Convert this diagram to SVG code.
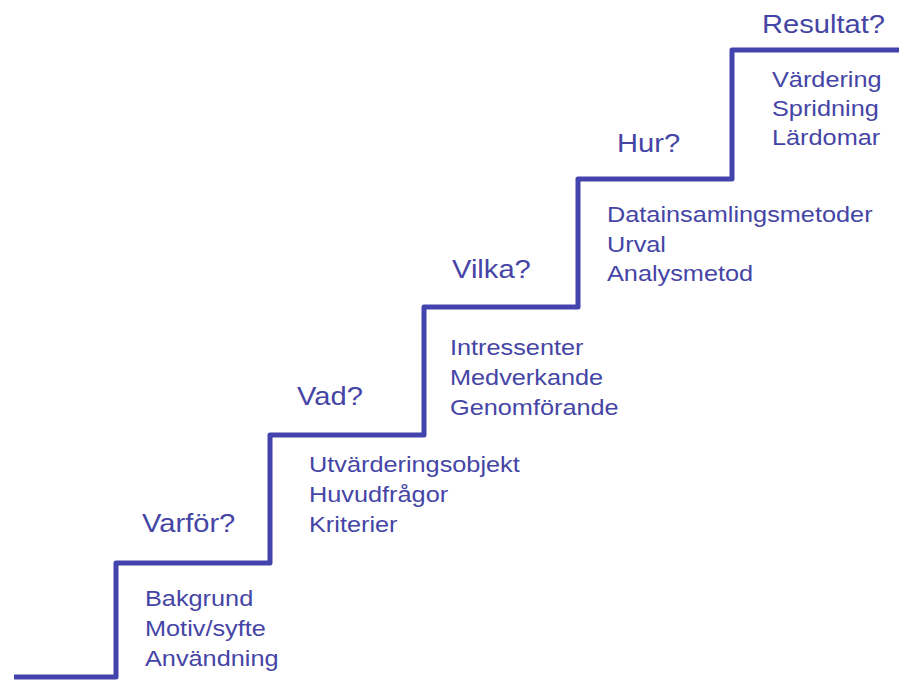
<svg xmlns="http://www.w3.org/2000/svg" width="899" height="683" viewBox="0 0 899 683">
  <style>
    .stair { fill: none; stroke: #4343ad; stroke-width: 5; stroke-linejoin: round; stroke-linecap: butt; }
    text { font-family: "Liberation Sans", Arial, Helvetica, sans-serif; fill: #4545a6; }
    .title { font-size: 26px; }
    .item { font-size: 22px; }
  </style>
  <rect width="899" height="683" fill="#ffffff"/>

  <!-- staircase line -->
  <g id="connectors">
    <path class="stair" d="M14,677 H116 V563 H270 V435 H424 V307 H578 V179 H732 V50 H899"/>
  </g>

  <!-- step 1 -->
  <g id="step-varfor">
    <text class="title" transform="translate(142,532) scale(1.12,1)">Varför?</text>
    <text class="item" transform="translate(145,606) scale(1.15,1)">Bakgrund</text>
    <text class="item" transform="translate(145,636) scale(1.15,1)">Motiv/syfte</text>
    <text class="item" transform="translate(145,666) scale(1.15,1)">Användning</text>
  </g>

  <!-- step 2 -->
  <g id="step-vad">
    <text class="title" transform="translate(297,405) scale(1.12,1)">Vad?</text>
    <text class="item" transform="translate(309,472) scale(1.15,1)">Utvärderingsobjekt</text>
    <text class="item" transform="translate(309,502) scale(1.15,1)">Huvudfrågor</text>
    <text class="item" transform="translate(309,532) scale(1.15,1)">Kriterier</text>
  </g>

  <!-- step 3 -->
  <g id="step-vilka">
    <text class="title" transform="translate(452,278) scale(1.12,1)">Vilka?</text>
    <text class="item" transform="translate(450,355) scale(1.15,1)">Intressenter</text>
    <text class="item" transform="translate(450,385) scale(1.15,1)">Medverkande</text>
    <text class="item" transform="translate(450,415) scale(1.15,1)">Genomförande</text>
  </g>

  <!-- step 4 -->
  <g id="step-hur">
    <text class="title" transform="translate(617,152) scale(1.12,1)">Hur?</text>
    <text class="item" transform="translate(607,222) scale(1.15,1)">Datainsamlingsmetoder</text>
    <text class="item" transform="translate(607,252) scale(1.15,1)">Urval</text>
    <text class="item" transform="translate(607,281) scale(1.15,1)">Analysmetod</text>
  </g>

  <!-- step 5 -->
  <g id="step-resultat">
    <text class="title" transform="translate(762,33) scale(1.12,1)">Resultat?</text>
    <text class="item" transform="translate(772,87) scale(1.15,1)">Värdering</text>
    <text class="item" transform="translate(772,116) scale(1.15,1)">Spridning</text>
    <text class="item" transform="translate(772,145) scale(1.15,1)">Lärdomar</text>
  </g>
</svg>
